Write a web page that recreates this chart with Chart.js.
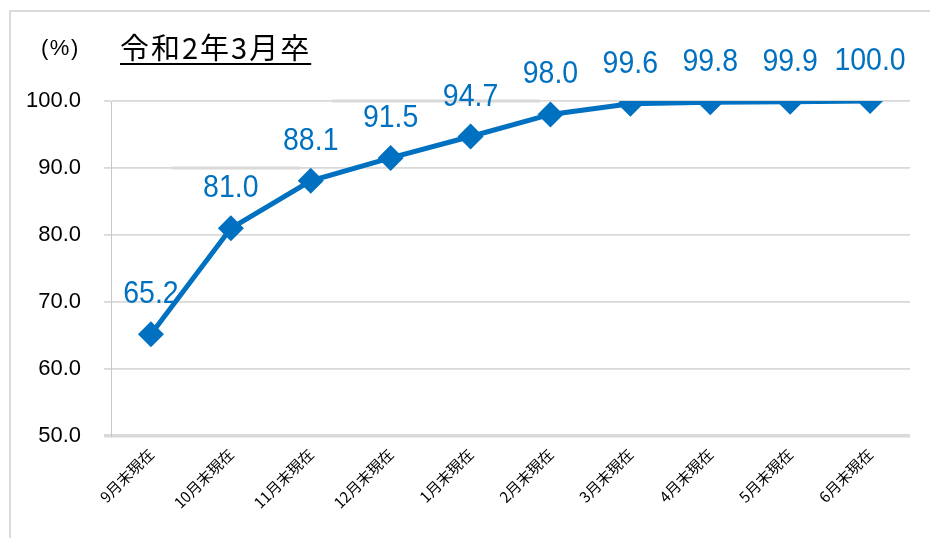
<!DOCTYPE html>
<html>
<head>
<meta charset="utf-8">
<script src="https://cdn.jsdelivr.net/npm/chart.js@4"></script>
<style>
  html, body { margin: 0; padding: 0; background: #fff; }
  #wrap { position: relative; width: 930px; height: 538px; overflow: hidden; }
  #frame { position: absolute; left: 9px; top: 10px; right: -5px; bottom: -5px;
           border-left: 2px solid #dadada; border-top: 2px solid #dadada; }
  canvas { position: absolute; left: 0; top: 0; }
  #unit { position: absolute; left: 41px; top: 35px; font: 22px "Liberation Sans", Arial, sans-serif; color: #000; letter-spacing: 1.5px; }
  #title { position: absolute; left: 120px; top: 29px; font: 29px "Noto Sans CJK JP", sans-serif; color: #000; letter-spacing: 2px;
           text-decoration: underline; text-underline-offset: 4px; text-decoration-thickness: 2px; line-height: 1.2; }
</style>
</head>
<body>
<div id="wrap">
  <div id="frame"></div>
  <canvas id="c" width="930" height="538"></canvas>
  <div id="unit">(%)</div>
  <div id="title">令和2年3月卒</div>
</div>
<script>
const categories = ['9月末現在','10月末現在','11月末現在','12月末現在','1月末現在','2月末現在','3月末現在','4月末現在','5月末現在','6月末現在'];
const rates = [65.2, 81.0, 88.1, 91.5, 94.7, 98.0, 99.6, 99.8, 99.9, 100.0];
const yTicks = [50, 60, 70, 80, 90, 100];
// faint thick grid remnants: [gridValue, fromCategoryIndex, toCategoryIndex]
const gridRemnants = [[90, 0.26, 1.87], [100, 2.27, 4.87]];

const BLUE = '#0070C0';

const remnantPlugin = {
  id: 'remnants',
  beforeDatasetsDraw(chart) {
    const {ctx, scales: {x, y}} = chart;
    ctx.save();
    ctx.strokeStyle = '#d9d9d9';
    ctx.lineWidth = 3;
    gridRemnants.forEach(([v, a, b]) => {
      const py = y.getPixelForValue(v);
      ctx.beginPath();
      ctx.moveTo(x.getPixelForValue(a), py);
      ctx.lineTo(x.getPixelForValue(b), py);
      ctx.stroke();
    });
    ctx.restore();
  }
};

const labelPlugin = {
  id: 'pointLabels',
  afterDatasetsDraw(chart) {
    const {ctx} = chart;
    const meta = chart.getDatasetMeta(0);
    ctx.save();
    ctx.fillStyle = BLUE;
    ctx.font = '28.5px "Liberation Sans", Arial, sans-serif';
    ctx.textAlign = 'center';
    ctx.textBaseline = 'alphabetic';
    const sy = 1.13;
    meta.data.forEach((pt, i) => {
      ctx.save();
      ctx.translate(pt.x, pt.y - 31);
      ctx.scale(1, sy);
      ctx.fillText(rates[i].toFixed(1), 0, 0);
      ctx.restore();
    });
    ctx.restore();
  }
};

new Chart(document.getElementById('c'), {
  type: 'line',
  data: {
    labels: categories,
    datasets: [{
      data: rates,
      borderColor: BLUE,
      backgroundColor: BLUE,
      borderWidth: 5,
      pointStyle: 'rectRot',
      pointRadius: 13,
      pointHoverRadius: 13,
      pointBorderWidth: 0,
      tension: 0
    }]
  },
  options: {
    responsive: false,
    animation: false,
    events: [],
    layout: { padding: { left: 0, top: 101, right: 20, bottom: 0 } },
    plugins: { legend: { display: false }, tooltip: { enabled: false } },
    scales: {
      x: {
        offset: true,
        grid: { display: false, drawTicks: false },
        border: { display: false },
        ticks: {
          color: '#000',
          font: { family: '"Noto Sans CJK JP", sans-serif', size: 15 },
          minRotation: 45, maxRotation: 45,
          padding: 9,
          autoSkip: false
        },
        afterFit(s) { s.height = 102; }
      },
      y: {
        min: 50, max: 100,
        afterBuildTicks(s) { s.ticks = yTicks.map(v => ({value: v})); },
        grid: {
          color: '#d9d9d9',
          lineWidth: (c) => c.tick && c.tick.value === 50 ? 3.5 : 1.8,
          tickLength: 7,
          drawTicks: true
        },
        border: { display: true, color: '#c8c8c8', width: 1 },
        ticks: {
          color: '#000',
          font: { family: '"Liberation Sans", Arial, sans-serif', size: 22 },
          padding: 23,
          callback: (v) => Number(v).toFixed(1)
        },
        afterFit(s) { s.width = 111; }
      }
    }
  },
  plugins: [remnantPlugin, labelPlugin]
});
</script>
</body>
</html>
